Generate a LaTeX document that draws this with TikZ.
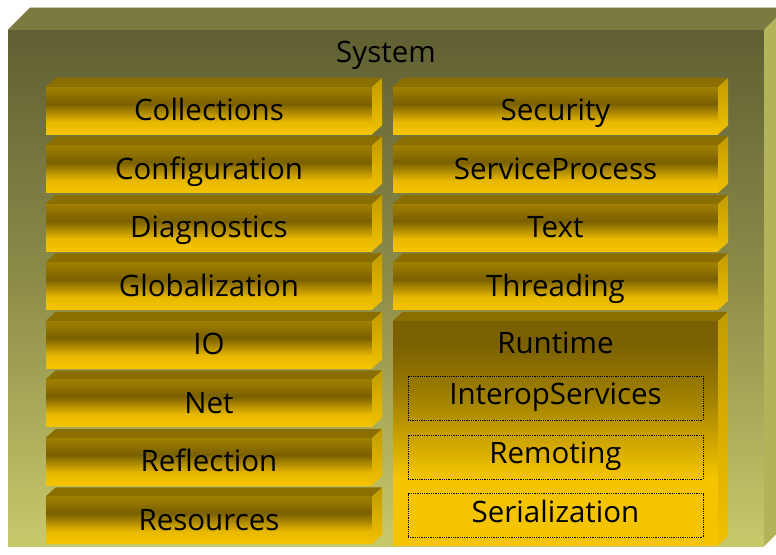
\documentclass[tikz,border=0pt]{standalone}
\usepackage{fontspec}
\setmainfont{Open Sans}
\definecolor{olivetop}{HTML}{5F5F33}
\definecolor{olivemid}{HTML}{8E8E4A}
\definecolor{olivebot}{HTML}{C8C96B}
\definecolor{olivelid}{HTML}{7B7B40}
\definecolor{oliveside}{HTML}{B3B35A}
\definecolor{olivetrim}{HTML}{C9C9B4}
\definecolor{goldA}{HTML}{A08000}
\definecolor{goldB}{HTML}{7A6000}
\definecolor{goldC}{HTML}{E8B800}
\definecolor{goldD}{HTML}{F5C400}
\definecolor{goldlid}{HTML}{8A6E00}
\definecolor{goldsideA}{HTML}{C29C00}
\definecolor{goldsideB}{HTML}{F0C000}
\pgfdeclareverticalshading{barshade}{100bp}{%
  color(0bp)=(goldD); color(25bp)=(goldD); color(38bp)=(goldC);
  color(57bp)=(goldB); color(75bp)=(goldA); color(100bp)=(goldA)}
\pgfdeclareverticalshading{runshade}{100bp}{%
  color(0bp)=(goldD); color(25bp)=(goldD); color(40bp)=(goldD);
  color(58bp)=(goldA); color(70bp)=(goldB); color(75bp)=(goldB); color(100bp)=(goldB)}
\pgfdeclareverticalshading{oliveshade}{100bp}{%
  color(0bp)=(olivebot); color(25bp)=(olivebot); color(50bp)=(olivemid);
  color(75bp)=(olivetop); color(100bp)=(olivetop)}
\tikzset{
  lbl/.style={font=\fontsize{29.5}{34}\selectfont, text=black, text height=26pt, text depth=6pt},
  barfront/.style={shading=barshade, inner sep=0pt, minimum height=47pt, lbl},
  bartop/.style={fill=goldlid},
  barside/.style={top color=goldsideA, bottom color=goldsideB},
  subbox/.style={draw=black, dash pattern=on 0.9pt off 0.9pt, line width=0.8pt,
    inner sep=0pt, minimum width=295pt, minimum height=44pt, lbl,
    text height=19.5pt, text depth=6.5pt},
}
\newcommand\goldbar[5]{%
  \node[barfront, minimum width=#5] (#1) at (#2,#3) {#4};
  \fill[bartop] (#1.north west) -- ++(10,-9) -- ([shift={(10,-9)}]#1.north east) -- (#1.north east) -- cycle;
  \shade[barside] (#1.north east) -- ++(10,-9) -- ([shift={(10,-9)}]#1.south east) -- (#1.south east) -- cycle;
}
\begin{document}
\begin{tikzpicture}[x=1pt,y=-1pt]
\useasboundingbox (0,0) rectangle (776,554);
\fill[white] (0,0) rectangle (776,554);
\clip (0,0) rectangle (776,554);
% outer System box
\node[inner sep=0pt, minimum width=756pt, minimum height=516pt, shading=oliveshade] (sys) at (386,288) {};
\fill[olivelid] (sys.north west) -- ++(22,-22) -- ([shift={(22,-22)}]sys.north east) -- (sys.north east) -- cycle;
\draw[olivetrim, line width=1.2pt] ([shift={(22,-22)}]sys.north west) -- ([shift={(22,-22)}]sys.north east);
\fill[oliveside] (sys.north east) -- ++(22,-22) -- ([shift={(22,-22)}]sys.south east) -- (sys.south east) -- cycle;
\node[lbl] (systxt) at (386,52) {System};
% left column
\goldbar{coll}{209}{110.5}{Collections}{326pt}
\goldbar{conf}{209}{169}{Configuration}{326pt}
\goldbar{diag}{209}{227.5}{Diagnostics}{326pt}
\goldbar{glob}{209}{286}{Globalization}{326pt}
\goldbar{io}{209}{344.5}{IO}{326pt}
\goldbar{net}{209}{403}{Net}{326pt}
\goldbar{refl}{209}{461.5}{Reflection}{326pt}
\goldbar{res}{209}{520}{Resources}{326pt}
% right column
\goldbar{sec}{555.5}{110.5}{Security}{325pt}
\goldbar{svc}{555.5}{169}{ServiceProcess}{325pt}
\goldbar{txt}{555.5}{227.5}{Text}{325pt}
\goldbar{thr}{555.5}{286}{Threading}{325pt}
% Runtime
\node[inner sep=0pt, minimum width=325pt, minimum height=224pt, shading=runshade] (run) at (555.5,433) {};
\fill[bartop] (run.north west) -- ++(10,-9) -- ([shift={(10,-9)}]run.north east) -- (run.north east) -- cycle;
\shade[barside] (run.north east) -- ++(10,-9) -- ([shift={(10,-9)}]run.south east) -- (run.south east) -- cycle;
\node[lbl] (runtxt) at (555.5,343) {Runtime};
\node[subbox] (interop) at (555.5,398) {InteropServices};
\node[subbox] (remot) at (555.5,457) {Remoting};
\node[subbox] (seri) at (555.5,515.5) {Serialization};
\end{tikzpicture}
\end{document}
